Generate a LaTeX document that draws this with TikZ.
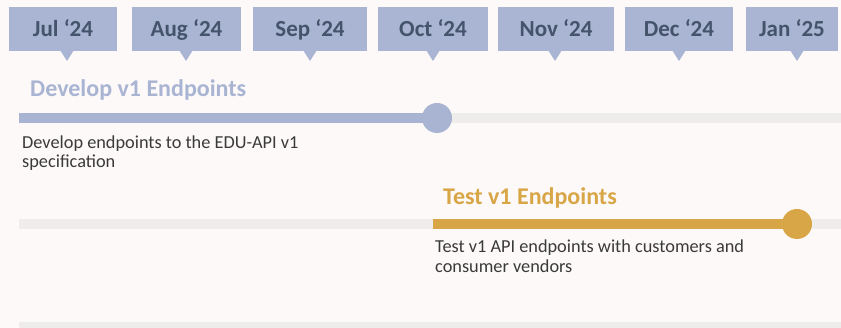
\documentclass[tikz,border=0pt]{standalone}
\usepackage{fontspec}
\setmainfont{Carlito}
\definecolor{bgc}{HTML}{FCF9F8}
\definecolor{boxc}{HTML}{AAB4D3}
\definecolor{monthtxt}{HTML}{44546A}
\definecolor{bluec}{HTML}{A9B4D3}
\definecolor{goldc}{HTML}{D9A647}
\definecolor{trackc}{HTML}{EFEDEC}
\definecolor{desctxt}{HTML}{3A3A3A}
\begin{document}
\begin{tikzpicture}[x=1pt,y=-1pt,
  monthbox/.style={fill=boxc, inner sep=0pt, anchor=north west, minimum height=44pt},
  monthtext/.style={font=\fontsize{23}{23}\selectfont\bfseries, text=monthtxt, anchor=base, inner sep=0pt},
  track/.style={trackc, line width=10pt},
  titletxt/.style={font=\fontsize{24}{24}\selectfont\bfseries, anchor=base west, inner sep=0pt},
  desc/.style={font=\fontsize{18.3}{20}\selectfont, text=desctxt, anchor=base west, inner sep=0pt}
]
\useasboundingbox (0,0) rectangle (841,328);
\fill[bgc] (0,0) rectangle (841,328);
% month boxes
\foreach \n/\xa/\xb/\px/\lab in {m1/9/117/67/{Jul ‘24}, m2/132/241/186/{Aug ‘24}, m3/253/367/310/{Sep ‘24}, m4/378/488/433/{Oct ‘24}, m5/498/614/555/{Nov ‘24}, m6/625/733/679/{Dec ‘24}, m7/746/838/797/{Jan ‘25}}{
  \pgfmathsetmacro{\w}{\xb-\xa}
  \pgfmathsetmacro{\cx}{(\xa+\xb)/2}
  \node[monthbox, minimum width=\w pt] (\n) at (\xa,7) {};
  \node[monthtext] (\n t) at (\cx,37) {\lab};
  \fill[boxc] (\px-7,50) -- (\px+7,50) -- (\px,61) -- cycle;
}
% tracks
\coordinate (t1s) at (19,118);
\coordinate (t1e) at (841,118);
\coordinate (t2s) at (19,224);
\coordinate (t2e) at (841,224);
\draw[track] (t1s) -- (t1e);
\draw[track] (t2s) -- (t2e);
\fill[trackc] (19,322) rectangle (841,328);
% develop
\coordinate (d1) at (19,118);
\coordinate (d2) at (437,118);
\draw[bluec, line width=10pt] (d1) -- (d2);
\fill[bluec] (d2) circle (15);
\node[titletxt, text=bluec] (dt) at (30,97) {Develop v1 Endpoints};
\node[desc] (dd1) at (22,149) {Develop endpoints to the EDU-API v1};
\node[desc] (dd2) at (22,168) {specification};
% test
\coordinate (e1) at (433,224);
\coordinate (e2) at (797,224);
\draw[goldc, line width=10pt] (e1) -- (e2);
\fill[goldc] (e2) circle (15);
\node[titletxt, text=goldc] (et) at (443,205) {Test v1 Endpoints};
\node[desc] (ed1) at (435,253) {Test v1 API endpoints with customers and};
\node[desc] (ed2) at (435,273) {consumer vendors};
\end{tikzpicture}
\end{document}
